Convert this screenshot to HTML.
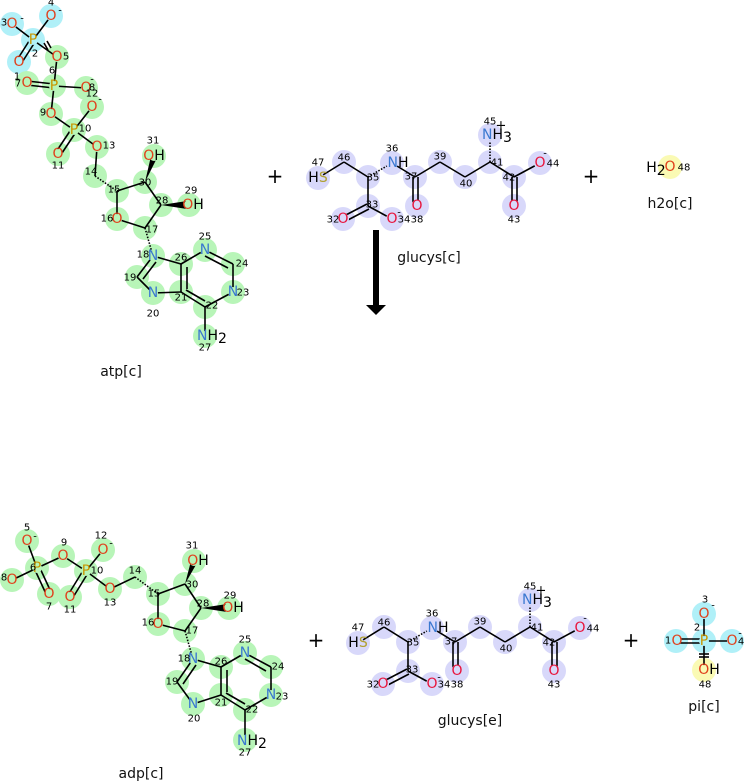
<!DOCTYPE html>
<html><head><meta charset="utf-8"><style>
html,body{margin:0;padding:0;background:#fff}
svg{display:block}
text{font-family:"DejaVu Sans","Liberation Sans",sans-serif}
.s{font-size:14px;text-anchor:middle;dominant-baseline:central}
.n{font-size:10px;fill:#000;text-anchor:middle;dominant-baseline:central}
.lb{font-size:14px;fill:#111;text-anchor:middle}
.O{fill:#e0401c}.Og{fill:#e8143c}.N{fill:#3a78d0}.P{fill:#c89600}.S{fill:#b0a030}
.b line,.b path{stroke:#000;stroke-width:1.6;fill:none}
.cg{fill:#b8f5b8}.cc{fill:#b0f0f8}.cl{fill:#d8d8fa}.cy{fill:#fafab4}
</style></head><body>
<svg width="744" height="782" viewBox="0 0 744 782" xmlns="http://www.w3.org/2000/svg">
<!-- ===== ATP ===== -->
<g>
<circle class="cc" cx="12" cy="24" r="12"/><circle class="cc" cx="51" cy="16" r="12"/><circle class="cc" cx="33" cy="40" r="12"/><circle class="cc" cx="19" cy="62" r="12"/>
<g class="cg">
<circle cx="57" cy="57" r="12"/><circle cx="54" cy="86" r="12"/><circle cx="27" cy="83" r="12"/><circle cx="86" cy="88" r="12"/><circle cx="92" cy="107" r="12"/><circle cx="51" cy="114" r="12"/><circle cx="74" cy="130" r="12"/><circle cx="58" cy="154" r="12"/><circle cx="97" cy="147" r="12"/><circle cx="95" cy="176" r="12"/><circle cx="117" cy="191" r="12"/><circle cx="117" cy="219" r="12"/><circle cx="145" cy="228" r="12"/><circle cx="161" cy="205" r="12"/><circle cx="145" cy="182" r="12"/><circle cx="154" cy="156" r="12"/><circle cx="189" cy="205" r="12"/><circle cx="153" cy="256" r="12"/><circle cx="137" cy="277" r="12"/><circle cx="153" cy="293" r="12"/><circle cx="181" cy="292" r="12"/><circle cx="205" cy="307" r="12"/><circle cx="233" cy="292" r="12"/><circle cx="233" cy="264" r="12"/><circle cx="205" cy="250" r="12"/><circle cx="181" cy="264" r="12"/><circle cx="205" cy="336" r="12"/>
</g>
<g class="b">
<line x1="12" y1="24" x2="33" y2="40"/><line x1="51" y1="16" x2="33" y2="40"/>
<line x1="31" y1="38" x2="17" y2="60"/><line x1="35" y1="42" x2="21" y2="64"/>
<line x1="33" y1="40" x2="57" y2="57"/><line x1="44" y1="43" x2="48" y2="50"/><line x1="47" y1="41" x2="51" y2="48"/>
<line x1="57" y1="57" x2="54" y2="86"/>
<line x1="27" y1="81" x2="54" y2="84"/><line x1="27" y1="85" x2="54" y2="88"/>
<line x1="54" y1="86" x2="86" y2="88"/><line x1="54" y1="86" x2="51" y2="114"/>
<line x1="51" y1="114" x2="74" y2="130"/><line x1="74" y1="130" x2="92" y2="107"/>
<line x1="72" y1="128" x2="56" y2="152"/><line x1="76" y1="132" x2="60" y2="156"/>
<line x1="74" y1="130" x2="97" y2="147"/><line x1="97" y1="147" x2="95" y2="176"/>
<path d="M95 176 L117 191" stroke-dasharray="1.5 1.5" stroke-width="5"/>
<line x1="117" y1="191" x2="145" y2="182"/><line x1="145" y1="182" x2="161" y2="205"/><line x1="161" y1="205" x2="145" y2="228"/><line x1="145" y1="228" x2="117" y2="219"/><line x1="117" y1="219" x2="117" y2="191"/>
<path d="M145 228 L153 256" stroke-dasharray="1.5 1.5" stroke-width="5"/>
<line x1="153" y1="256" x2="181" y2="264"/><line x1="181" y1="264" x2="181" y2="292"/><line x1="187" y1="267" x2="187" y2="289"/>
<line x1="181" y1="292" x2="153" y2="293"/><line x1="153" y1="293" x2="137" y2="277"/><line x1="137" y1="277" x2="153" y2="256"/><line x1="143" y1="279" x2="156" y2="262"/>
<line x1="181" y1="264" x2="205" y2="250"/><line x1="205" y1="250" x2="233" y2="264"/><line x1="205" y1="256" x2="228" y2="268"/><line x1="233" y1="264" x2="233" y2="292"/><line x1="233" y1="292" x2="205" y2="307"/><line x1="205" y1="307" x2="181" y2="292"/><line x1="205" y1="301" x2="186" y2="290"/><line x1="205" y1="307" x2="205" y2="336"/>
</g>
<path d="M145 182 L151 156 L157 158 Z" fill="#000"/>
<path d="M161 205 L187 201 L187 209 Z" fill="#000"/>
<g class="s">
<circle class="cc" cx="12" cy="24" r="5"/><circle class="cc" cx="51" cy="16" r="5"/><circle class="cc" cx="33" cy="40" r="5"/><circle class="cc" cx="19" cy="62" r="5"/>
<g class="cg"><circle cx="57" cy="57" r="5"/><circle cx="54" cy="86" r="5"/><circle cx="27" cy="83" r="5"/><circle cx="86" cy="88" r="5"/><circle cx="92" cy="107" r="5"/><circle cx="51" cy="114" r="5"/><circle cx="74" cy="130" r="5"/><circle cx="58" cy="154" r="5"/><circle cx="97" cy="147" r="5"/><circle cx="117" cy="219" r="5"/><circle cx="154" cy="156" r="5"/><circle cx="189" cy="205" r="5"/><circle cx="153" cy="256" r="5"/><circle cx="153" cy="293" r="5"/><circle cx="233" cy="292" r="5"/><circle cx="205" cy="250" r="5"/><circle cx="205" cy="336" r="5"/></g>
<text class="s O" x="12" y="24">O</text><text class="s O" x="51" y="16">O</text><text class="s P" x="33" y="40">P</text><text class="s O" x="19" y="62">O</text>
<text class="s O" x="57" y="57">O</text><text class="s P" x="54" y="86">P</text><text class="s O" x="27" y="83">O</text><text class="s O" x="86" y="88">O</text><text class="s O" x="92" y="107">O</text><text class="s O" x="51" y="114">O</text><text class="s P" x="74" y="130">P</text><text class="s O" x="58" y="154">O</text><text class="s O" x="97" y="147">O</text><text class="s O" x="117" y="219">O</text>
<text class="s O" x="154" y="156">O<tspan fill="#000">H</tspan></text><text class="s O" x="193" y="205">O<tspan fill="#000">H</tspan></text>
<text class="s N" x="153" y="256">N</text><text class="s N" x="153" y="293">N</text><text class="s N" x="233" y="292">N</text><text class="s N" x="205" y="250">N</text>
<text class="s N" x="212" y="336">N<tspan fill="#000">H</tspan><tspan fill="#000" dy="3">2</tspan></text>
</g>
<g class="n">
<text x="4" y="23">3</text><text x="22" y="19">-</text><text x="51" y="3">4</text><text x="60" y="11">-</text><text x="35" y="54">2</text><text x="17" y="77">1</text><text x="18" y="84">7</text><text x="66" y="57">5</text><text x="52" y="71">6</text><text x="92" y="88">8</text><text x="92" y="80">-</text><text x="92" y="94">12</text><text x="100" y="100">-</text><text x="43" y="113">9</text><text x="85" y="129">10</text><text x="58" y="166">11</text><text x="109" y="146">13</text><text x="153" y="141">31</text><text x="91" y="172">14</text><text x="114" y="190">15</text><text x="145" y="183">30</text><text x="162" y="201">28</text><text x="191" y="191">29</text><text x="107" y="219">16</text><text x="152" y="230">17</text><text x="143" y="255">18</text><text x="130" y="278">19</text><text x="153" y="314">20</text><text x="181" y="298">21</text><text x="212" y="306">22</text><text x="243" y="293">23</text><text x="242" y="264">24</text><text x="205" y="237">25</text><text x="181" y="258">26</text><text x="205" y="348">27</text>
</g>
<text class="lb" x="121" y="376">atp[c]</text>
</g>

<!-- ===== ADP ===== -->
<g>
<g class="cg">
<circle cx="27" cy="541" r="12"/><circle cx="37" cy="568" r="12"/><circle cx="12" cy="580" r="12"/><circle cx="49" cy="594" r="12"/><circle cx="63" cy="556" r="12"/><circle cx="86" cy="571" r="12"/><circle cx="103" cy="550" r="12"/><circle cx="70" cy="597" r="12"/><circle cx="110" cy="589" r="12"/><circle cx="135" cy="577" r="12"/><circle cx="158" cy="594" r="12"/><circle cx="185" cy="584" r="12"/><circle cx="201" cy="608" r="12"/><circle cx="185" cy="631" r="12"/><circle cx="158" cy="624" r="12"/><circle cx="194" cy="561" r="12"/><circle cx="229" cy="608" r="12"/><circle cx="193" cy="659" r="12"/><circle cx="177" cy="682" r="12"/><circle cx="193" cy="704" r="12"/><circle cx="221" cy="695" r="12"/><circle cx="245" cy="710" r="12"/><circle cx="271" cy="695" r="12"/><circle cx="271" cy="667" r="12"/><circle cx="245" cy="653" r="12"/><circle cx="221" cy="667" r="12"/><circle cx="245" cy="740" r="12"/>
</g>
<g class="b">
<line x1="27" y1="541" x2="37" y2="568"/><line x1="12" y1="580" x2="37" y2="568"/>
<line x1="35" y1="570" x2="47" y2="596"/><line x1="39" y1="566" x2="51" y2="592"/>
<line x1="37" y1="568" x2="63" y2="556"/><line x1="63" y1="556" x2="86" y2="571"/><line x1="86" y1="571" x2="103" y2="550"/>
<line x1="84" y1="569" x2="68" y2="595"/><line x1="88" y1="573" x2="72" y2="599"/>
<line x1="86" y1="571" x2="110" y2="589"/><line x1="110" y1="589" x2="135" y2="577"/>
<path d="M135 577 L158 594" stroke-dasharray="1.5 1.5" stroke-width="5"/>
<line x1="158" y1="594" x2="185" y2="584"/><line x1="185" y1="584" x2="201" y2="608"/><line x1="201" y1="608" x2="185" y2="631"/><line x1="185" y1="631" x2="158" y2="624"/><line x1="158" y1="624" x2="158" y2="594"/>
<path d="M185 631 L193 659" stroke-dasharray="1.5 1.5" stroke-width="5"/>
<line x1="193" y1="659" x2="221" y2="667"/><line x1="221" y1="667" x2="221" y2="695"/><line x1="227" y1="670" x2="227" y2="692"/>
<line x1="221" y1="695" x2="193" y2="704"/><line x1="193" y1="704" x2="177" y2="682"/><line x1="177" y1="682" x2="193" y2="659"/><line x1="183" y1="684" x2="196" y2="665"/>
<line x1="221" y1="667" x2="245" y2="653"/><line x1="245" y1="653" x2="271" y2="667"/><line x1="245" y1="659" x2="266" y2="671"/><line x1="271" y1="667" x2="271" y2="695"/><line x1="271" y1="695" x2="245" y2="710"/><line x1="245" y1="710" x2="221" y2="695"/><line x1="245" y1="704" x2="226" y2="693"/><line x1="245" y1="710" x2="245" y2="740"/>
</g>
<path d="M185 584 L191 561 L197 563 Z" fill="#000"/>
<path d="M201 608 L227 604 L227 612 Z" fill="#000"/>
<g class="cg"><circle cx="27" cy="541" r="5"/><circle cx="37" cy="568" r="5"/><circle cx="12" cy="580" r="5"/><circle cx="49" cy="594" r="5"/><circle cx="63" cy="556" r="5"/><circle cx="86" cy="571" r="5"/><circle cx="103" cy="550" r="5"/><circle cx="70" cy="597" r="5"/><circle cx="110" cy="589" r="5"/><circle cx="158" cy="624" r="5"/><circle cx="194" cy="561" r="5"/><circle cx="229" cy="608" r="5"/><circle cx="193" cy="659" r="5"/><circle cx="193" cy="704" r="5"/><circle cx="271" cy="695" r="5"/><circle cx="245" cy="653" r="5"/><circle cx="245" cy="740" r="5"/></g>
<text class="s O" x="27" y="541">O</text><text class="s P" x="37" y="568">P</text><text class="s O" x="12" y="580">O</text><text class="s O" x="49" y="594">O</text><text class="s O" x="63" y="556">O</text><text class="s P" x="86" y="571">P</text><text class="s O" x="103" y="550">O</text><text class="s O" x="70" y="597">O</text><text class="s O" x="110" y="589">O</text><text class="s O" x="158" y="624">O</text>
<text class="s O" x="198" y="561">O<tspan fill="#000">H</tspan></text><text class="s O" x="233" y="608">O<tspan fill="#000">H</tspan></text>
<text class="s N" x="193" y="659">N</text><text class="s N" x="193" y="704">N</text><text class="s N" x="271" y="695">N</text><text class="s N" x="245" y="653">N</text>
<text class="s N" x="252" y="741">N<tspan fill="#000">H</tspan><tspan fill="#000" dy="3">2</tspan></text>
<g class="n">
<text x="27" y="528">5</text><text x="35" y="537">-</text><text x="64" y="543">9</text><text x="101" y="536">12</text><text x="111" y="544">-</text><text x="33" y="568">6</text><text x="4" y="578">8</text><text x="49" y="607">7</text><text x="70" y="610">11</text><text x="97" y="571">10</text><text x="110" y="603">13</text><text x="135" y="571">14</text><text x="154" y="594">15</text><text x="192" y="546">31</text><text x="192" y="585">30</text><text x="203" y="604">28</text><text x="230" y="596">29</text><text x="148" y="623">16</text><text x="192" y="631">17</text><text x="184" y="659">18</text><text x="172" y="682">19</text><text x="194" y="719">20</text><text x="221" y="703">21</text><text x="252" y="710">22</text><text x="282" y="697">23</text><text x="278" y="667">24</text><text x="245" y="640">25</text><text x="221" y="662">26</text><text x="245" y="753">27</text>
</g>
<text class="lb" x="141" y="778">adp[c]</text>
</g>

<!-- plus signs -->
<g font-size="20" text-anchor="middle" dominant-baseline="central" fill="#000" style="font-family:'DejaVu Sans',sans-serif">
<text x="275" y="176">+</text><text x="591" y="176">+</text><text x="316" y="640">+</text><text x="631" y="640">+</text>
</g>

<!-- arrow -->
<rect x="373" y="230" width="6" height="76" fill="#000"/>
<path d="M366 305 L386 305 L376 315 Z" fill="#000"/>

<!-- ===== glucys[c] and glucys[e] ===== -->
<g id="gc">
<g class="cl">
<circle cx="318" cy="178" r="12"/><circle cx="344" cy="162" r="12"/><circle cx="368" cy="177" r="12"/><circle cx="392" cy="163" r="12"/><circle cx="415" cy="177" r="12"/><circle cx="417" cy="206" r="12"/><circle cx="440" cy="162" r="12"/><circle cx="465" cy="177" r="12"/><circle cx="490" cy="162" r="12"/><circle cx="490" cy="135" r="12"/><circle cx="514" cy="177" r="12"/><circle cx="540" cy="163" r="12"/><circle cx="514" cy="206" r="12"/><circle cx="368" cy="206" r="12"/><circle cx="343" cy="219" r="12"/><circle cx="392" cy="219" r="12"/>
</g>
<g class="b">
<line x1="318" y1="178" x2="344" y2="162"/><line x1="344" y1="162" x2="368" y2="177"/>
<path d="M368 177 L392 163" stroke-dasharray="1.5 1.5" stroke-width="5"/>
<line x1="392" y1="163" x2="415" y2="177"/><line x1="413" y1="177" x2="413" y2="206"/><line x1="418" y1="177" x2="418" y2="206"/>
<line x1="415" y1="177" x2="440" y2="162"/><line x1="440" y1="162" x2="465" y2="177"/><line x1="465" y1="177" x2="490" y2="162"/>
<path d="M490 162 L490 137" stroke-dasharray="1.5 1.5" stroke-width="5"/>
<line x1="490" y1="162" x2="514" y2="177"/><line x1="514" y1="177" x2="540" y2="163"/><line x1="512" y1="177" x2="512" y2="206"/><line x1="517" y1="177" x2="517" y2="206"/>
<line x1="368" y1="177" x2="368" y2="206"/><line x1="368" y1="206" x2="392" y2="219"/><line x1="367" y1="204" x2="342" y2="217"/><line x1="369" y1="209" x2="344" y2="222"/>
</g>
<g class="cl"><circle cx="318" cy="178" r="6"/><circle cx="392" cy="163" r="6"/><circle cx="417" cy="206" r="6"/><circle cx="490" cy="135" r="6"/><circle cx="540" cy="163" r="6"/><circle cx="514" cy="206" r="6"/><circle cx="343" cy="219" r="6"/><circle cx="392" cy="219" r="6"/></g>
<text class="s S" x="318" y="178"><tspan fill="#000">H</tspan>S</text>
<text class="s N" x="398" y="163">N<tspan fill="#000">H</tspan></text>
<text class="s N" x="497" y="135">N<tspan fill="#000">H</tspan><tspan fill="#000" dy="3">3</tspan></text>
<text class="s Og" x="417" y="206">O</text><text class="s Og" x="540" y="163">O</text><text class="s Og" x="514" y="206">O</text><text class="s Og" x="343" y="219">O</text><text class="s Og" x="392" y="219">O</text>
<g class="n">
<text x="318" y="163">47</text><text x="344" y="158">46</text><text x="373" y="178">35</text><text x="392" y="149">36</text><text x="411" y="177">37</text><text x="417" y="220">38</text><text x="440" y="157">39</text><text x="466" y="184">40</text><text x="497" y="163">41</text><text x="490" y="122">45</text><text x="501" y="126" font-size="13">+</text><text x="509" y="178">42</text><text x="553" y="164">44</text><text x="545" y="154">-</text><text x="514" y="220">43</text><text x="372" y="205">33</text><text x="333" y="220">32</text><text x="404" y="220">34</text><text x="399" y="213">-</text>
</g>
</g>
<text class="lb" x="429" y="262">glucys[c]</text>
<use href="#gc" x="40" y="465"/>
<text class="lb" x="470" y="725">glucys[e]</text>

<!-- h2o -->
<circle class="cy" cx="670" cy="167" r="12"/>
<text class="s" x="656" y="168" fill="#000">H<tspan dy="3" font-size="14">2</tspan></text>
<text class="s O" x="670" y="167">O</text>
<text class="n" x="684" y="168">48</text>
<text class="lb" x="670" y="208">h2o[c]</text>

<!-- pi -->
<circle class="cc" cx="704" cy="614" r="12"/><circle class="cc" cx="676" cy="641" r="12"/><circle class="cc" cx="732" cy="641" r="12"/><circle class="cc" cx="704" cy="641" r="12"/><circle class="cy" cx="704" cy="670" r="12"/>
<g class="b">
<line x1="704" y1="614" x2="704" y2="641"/><line x1="676" y1="639" x2="704" y2="639"/><line x1="676" y1="643" x2="704" y2="643"/><line x1="704" y1="641" x2="732" y2="641"/><line x1="704" y1="641" x2="704" y2="670"/><line x1="699" y1="654" x2="709" y2="654"/><line x1="699" y1="657" x2="709" y2="657"/>
</g>
<circle class="cc" cx="704" cy="614" r="5"/><circle class="cc" cx="676" cy="641" r="5"/><circle class="cc" cx="732" cy="641" r="5"/><circle class="cc" cx="704" cy="641" r="5"/><circle class="cy" cx="704" cy="670" r="5"/>
<text class="s O" x="704" y="614">O</text><text class="s O" x="677" y="641">O</text><text class="s O" x="732" y="641">O</text><text class="s P" x="704" y="641">P</text><text class="s O" x="709" y="670">O<tspan fill="#000">H</tspan></text>
<g class="n"><text x="705" y="600">3</text><text x="713" y="606">-</text><text x="697" y="628">2</text><text x="668" y="641">1</text><text x="741" y="642">4</text><text x="740" y="634">-</text><text x="705" y="685">48</text></g>
<text class="lb" x="704" y="711">pi[c]</text>
</svg>
</body></html>
